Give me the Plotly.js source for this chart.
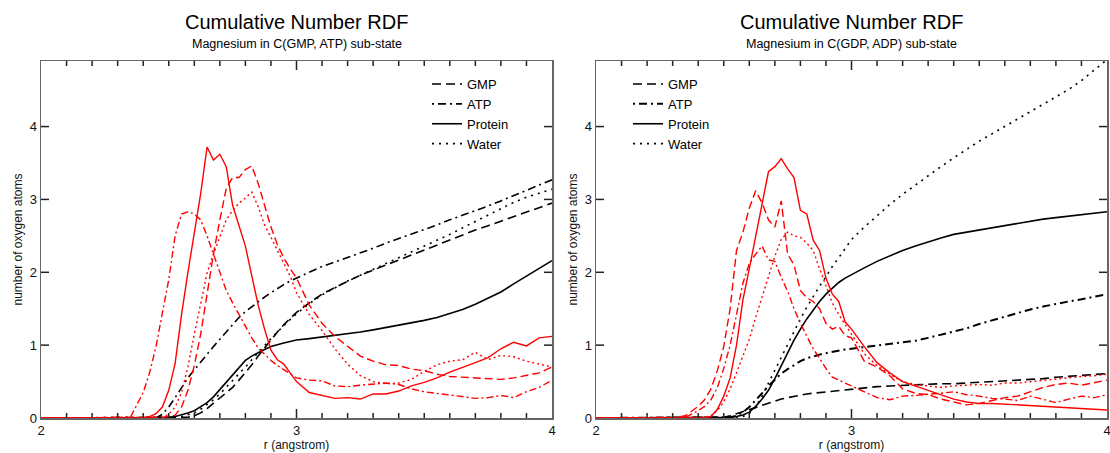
<!DOCTYPE html>
<html><head><meta charset="utf-8">
<script src="https://cdn.plot.ly/plotly-3.0.1.min.js"></script>
<style>html,body{margin:0;padding:0;background:#fff}#chart{width:1110px;height:453px}</style>
</head><body><div id="chart"></div>
<script>
// r grid (angstrom)
const r = [2.0, 2.30, 2.35, 2.40, 2.425, 2.45, 2.475, 2.50, 2.525, 2.55, 2.575, 2.60, 2.625, 2.65, 2.675, 2.70,
  2.725, 2.75, 2.775, 2.80, 2.825, 2.85, 2.875, 2.90, 2.925, 2.95, 2.975, 3.00, 3.05, 3.10, 3.15, 3.20,
  3.25, 3.30, 3.35, 3.40, 3.45, 3.50, 3.55, 3.60, 3.65, 3.70, 3.75, 3.80, 3.85, 3.90, 3.95, 4.00];

const seriesNames = ['GMP', 'ATP', 'Protein', 'Water'];
const xTicks = [2, 3, 4];
const xMinorStep = 0.1;
const yTicks = [0, 1, 2, 3, 4];
const titles = ['Cumulative Number RDF', 'Cumulative Number RDF'];
const subtitles = ['Magnesium in C(GMP, ATP) sub-state', 'Magnesium in C(GDP, ADP) sub-state'];

// LEFT panel: C(GMP, ATP)
const L_cum_gmp = [0,0,0,0,0,0,0,0,0,0,0.01,0.03,0.07,0.13,0.2,0.27,0.34,0.42,0.52,0.62,0.73,0.85,0.96,1.08,1.18,1.28,1.37,1.45,1.58,1.7,1.79,1.88,1.96,2.03,2.1,2.17,2.24,2.31,2.38,2.45,2.52,2.58,2.64,2.7,2.76,2.82,2.88,2.95];
const L_cum_atp = [0,0,0,0,0,0,0.05,0.15,0.28,0.42,0.55,0.66,0.77,0.88,0.98,1.08,1.18,1.28,1.38,1.46,1.53,1.6,1.66,1.72,1.78,1.83,1.88,1.92,2.0,2.08,2.14,2.2,2.27,2.33,2.4,2.46,2.52,2.59,2.65,2.72,2.78,2.84,2.91,2.98,3.05,3.12,3.19,3.27];
const L_cum_protein = [0,0,0,0,0,0,0,0.005,0.02,0.04,0.07,0.1,0.15,0.21,0.29,0.39,0.5,0.6,0.7,0.79,0.85,0.9,0.94,0.98,1.01,1.03,1.05,1.07,1.09,1.11,1.14,1.16,1.18,1.21,1.24,1.27,1.3,1.34,1.38,1.43,1.49,1.56,1.64,1.73,1.84,1.95,2.05,2.16];
const L_cum_water = [0,0,0,0,0,0,0,0,0.01,0.02,0.04,0.07,0.12,0.18,0.25,0.33,0.42,0.51,0.6,0.7,0.8,0.9,1.0,1.09,1.18,1.27,1.35,1.43,1.57,1.69,1.79,1.88,1.96,2.04,2.12,2.19,2.27,2.35,2.43,2.52,2.61,2.7,2.79,2.88,2.96,3.03,3.09,3.14];
const L_rdf_gmp = [0,0,0,0,0,0,0.01,0.02,0.04,0.15,0.38,0.72,1.15,1.7,2.25,2.72,3.15,3.3,3.3,3.41,3.46,3.22,2.92,2.62,2.38,2.2,2.05,1.92,1.55,1.3,1.12,0.98,0.85,0.78,0.73,0.72,0.67,0.65,0.6,0.57,0.56,0.54,0.53,0.53,0.55,0.58,0.62,0.7];
const L_rdf_atp = [0,0,0.01,0.35,0.62,0.98,1.45,1.9,2.5,2.8,2.83,2.8,2.72,2.5,2.25,2.0,1.75,1.58,1.42,1.24,1.1,0.96,0.87,0.79,0.72,0.66,0.6,0.55,0.52,0.51,0.44,0.43,0.45,0.47,0.48,0.46,0.4,0.36,0.34,0.32,0.3,0.27,0.28,0.31,0.28,0.36,0.42,0.52];
const L_rdf_protein = [0,0,0,0,0.02,0.06,0.15,0.38,0.75,1.42,2.0,2.55,3.08,3.72,3.54,3.62,3.45,2.92,2.65,2.36,1.95,1.55,1.22,0.93,0.8,0.74,0.62,0.5,0.35,0.31,0.27,0.28,0.26,0.33,0.33,0.37,0.44,0.49,0.55,0.63,0.69,0.76,0.83,0.95,1.04,0.99,1.1,1.12];
const L_rdf_water = [0,0,0,0,0,0,0.01,0.05,0.15,0.35,0.7,1.15,1.55,1.99,2.25,2.5,2.72,2.85,2.95,3.02,3.1,2.9,2.65,2.48,2.3,2.12,1.95,1.72,1.42,1.2,0.95,0.74,0.58,0.5,0.47,0.48,0.53,0.64,0.73,0.78,0.8,0.9,0.8,0.86,0.84,0.78,0.74,0.7];

// RIGHT panel: C(GDP, ADP)
const R_cum_gmp = [0,0,0,0,0,0,0,0.01,0.03,0.06,0.09,0.12,0.15,0.18,0.21,0.24,0.26,0.28,0.3,0.32,0.33,0.34,0.35,0.36,0.37,0.38,0.39,0.4,0.41,0.43,0.44,0.45,0.46,0.46,0.47,0.47,0.48,0.48,0.49,0.5,0.51,0.53,0.54,0.56,0.57,0.59,0.6,0.61];
const R_cum_atp = [0,0,0,0,0,0,0,0,0.01,0.03,0.08,0.15,0.24,0.34,0.44,0.53,0.61,0.67,0.73,0.78,0.82,0.85,0.87,0.89,0.91,0.93,0.94,0.95,0.97,0.99,1.01,1.03,1.06,1.1,1.14,1.18,1.23,1.29,1.34,1.4,1.45,1.49,1.53,1.57,1.6,1.63,1.66,1.7];
const R_cum_protein = [0,0,0,0,0,0,0,0,0.01,0.02,0.04,0.08,0.16,0.26,0.38,0.54,0.72,0.9,1.07,1.22,1.36,1.48,1.6,1.7,1.78,1.86,1.92,1.97,2.06,2.15,2.23,2.3,2.36,2.42,2.47,2.52,2.55,2.59,2.62,2.65,2.68,2.71,2.73,2.75,2.77,2.79,2.81,2.83];
const R_cum_water = [0,0,0,0,0,0,0,0,0,0,0.02,0.06,0.15,0.3,0.48,0.66,0.82,1.0,1.18,1.36,1.52,1.67,1.81,1.94,2.08,2.2,2.33,2.45,2.62,2.78,2.93,3.07,3.2,3.33,3.45,3.57,3.69,3.8,3.9,4.0,4.1,4.2,4.3,4.4,4.51,4.63,4.77,4.92];
const R_rdf_gmp = [0,0,0.03,0.16,0.25,0.4,0.65,0.98,1.5,2.3,2.55,2.88,3.12,2.95,2.72,2.62,2.98,2.25,2.1,1.75,1.65,1.6,1.5,1.3,1.22,1.26,1.13,1.1,0.78,0.7,0.58,0.4,0.34,0.32,0.26,0.22,0.18,0.2,0.24,0.28,0.3,0.36,0.42,0.46,0.48,0.45,0.48,0.52];
const R_rdf_atp = [0,0,0.01,0.1,0.16,0.25,0.42,0.68,1.0,1.42,1.85,2.12,2.25,2.36,2.17,2.15,1.93,1.74,1.5,1.3,1.12,0.95,0.82,0.68,0.56,0.52,0.48,0.45,0.37,0.28,0.25,0.3,0.31,0.32,0.34,0.36,0.32,0.3,0.27,0.26,0.24,0.3,0.26,0.21,0.26,0.3,0.28,0.32];
const R_rdf_protein = [0,0,0,0,0,0.02,0.12,0.3,0.55,1.0,1.62,2.05,2.5,2.92,3.38,3.45,3.56,3.42,3.3,2.85,2.8,2.44,2.3,1.92,1.7,1.6,1.32,1.22,0.98,0.76,0.62,0.5,0.44,0.38,0.31,0.26,0.22,0.2,0.2,0.19,0.18,0.17,0.15,0.15,0.14,0.13,0.12,0.11];
const R_rdf_water = [0,0,0,0,0.01,0.03,0.1,0.22,0.4,0.62,0.85,1.08,1.38,1.65,1.95,2.22,2.45,2.55,2.5,2.48,2.4,2.3,2.05,1.8,1.58,1.42,1.28,1.15,0.88,0.72,0.6,0.5,0.46,0.44,0.42,0.44,0.45,0.46,0.45,0.48,0.48,0.5,0.52,0.53,0.55,0.57,0.58,0.6];

const FONT = '"Liberation Sans", Arial, Helvetica, sans-serif';
const W = 1110, H = 453;
const dashes = {GMP: '9px,5px', ATP: '2px,4px,8px,4px', Protein: 'solid', Water: '2px,5px'};
const redDashes = {GMP: '8px,4px', ATP: '7px,3px,2px,3px', Protein: 'solid', Water: '2px,3px'};

const panels = [
  {xa: 'x', ya: 'y', legend: 'legend', cum: [L_cum_gmp, L_cum_atp, L_cum_protein, L_cum_water], rdf: [L_rdf_gmp, L_rdf_atp, L_rdf_protein, L_rdf_water]},
  {xa: 'x2', ya: 'y2', legend: 'legend2', cum: [R_cum_gmp, R_cum_atp, R_cum_protein, R_cum_water], rdf: [R_rdf_gmp, R_rdf_atp, R_rdf_protein, R_rdf_water]}
];

const traces = [];
panels.forEach((p, pi) => {
  seriesNames.forEach((nm, i) => {
    traces.push({x: r, y: p.cum[i], xaxis: p.xa, yaxis: p.ya, mode: 'lines', name: nm, legend: p.legend,
      line: {color: '#000', width: (pi === 1 && nm === 'ATP') ? 2 : 1.6, dash: dashes[nm]}, hoverinfo: 'skip'});
  });
  seriesNames.forEach((nm, i) => {
    traces.push({x: r, y: p.rdf[i], xaxis: p.xa, yaxis: p.ya, mode: 'lines', name: nm, showlegend: false,
      line: {color: '#ff0000', width: 1.4, dash: redDashes[nm]}, hoverinfo: 'skip'});
  });
});

const xDom = [[41 / W, 552 / W], [596 / W, 1107 / W]];
const yDom = [1 - 418 / H, 1 - 61 / H];
const xRange = [xTicks[0], xTicks[xTicks.length - 1]];

// tick positions every 0.1 (axis decoration)
const xTickVals = [];
const nSteps = Math.round((xRange[1] - xRange[0]) / xMinorStep);
for (let k = 1; k < nSteps; k++) xTickVals.push(+(xRange[0] + k * xMinorStep).toFixed(2));

function xAxis(dom, anchor) {
  return {domain: dom, anchor: anchor, range: xRange,
    tickmode: 'array', tickvals: xTicks, ticks: '', mirror: true,
    showline: true, linecolor: '#666', linewidth: 1.5, showgrid: false, zeroline: false, automargin: false,
    ticklabeloverflow: 'allow',
    tickfont: {family: FONT, size: 13, color: '#111'},
    title: {text: 'r (angstrom)', font: {family: FONT, size: 12, color: '#111'}, standoff: 0}};
}
function yAxis(anchor) {
  return {domain: yDom, anchor: anchor, range: [0, 4.9],
    tickmode: 'array', tickvals: yTicks, ticks: '', mirror: true,
    showline: true, linecolor: '#666', linewidth: 1.5, showgrid: false, zeroline: false, automargin: false,
    ticklabeloverflow: 'allow',
    tickfont: {family: FONT, size: 13, color: '#111'},
    title: {text: 'number of oxygen atoms', font: {family: FONT, size: 12, color: '#111'}, standoff: 4}};
}

// inward tick marks drawn as pixel-sized shapes anchored on the frame
const shapes = [];
const tickLine = {color: '#222', width: 1.5};
['x', 'x2'].forEach(xr => {
  xTickVals.forEach(v => {
    const len = xTicks.includes(v) ? 9 : 5;
    shapes.push({type: 'line', xref: xr, yref: 'paper', ysizemode: 'pixel', yanchor: yDom[0],
      x0: v, x1: v, y0: 0, y1: len, line: tickLine, layer: 'above'});
    shapes.push({type: 'line', xref: xr, yref: 'paper', ysizemode: 'pixel', yanchor: yDom[1],
      x0: v, x1: v, y0: 0, y1: -len, line: tickLine, layer: 'above'});
  });
});
['y', 'y2'].forEach((yr, i) => {
  yTicks.slice(1).forEach(v => {
    shapes.push({type: 'line', xref: 'paper', yref: yr, xsizemode: 'pixel', xanchor: xDom[i][0],
      x0: 0, x1: 8, y0: v, y1: v, line: tickLine, layer: 'above'});
    shapes.push({type: 'line', xref: 'paper', yref: yr, xsizemode: 'pixel', xanchor: xDom[i][1],
      x0: 0, x1: -8, y0: v, y1: v, line: tickLine, layer: 'above'});
  });
});

const annotations = [];
[0, 1].forEach(i => {
  const cx = (xDom[i][0] + xDom[i][1]) / 2;
  annotations.push({text: titles[i], x: cx, y: 1 - 22 / H, xref: 'paper', yref: 'paper', showarrow: false,
    xanchor: 'center', yanchor: 'middle', font: {family: FONT, size: 20, color: '#000'}});
  annotations.push({text: subtitles[i], x: cx, y: 1 - 44 / H, xref: 'paper', yref: 'paper', showarrow: false,
    xanchor: 'center', yanchor: 'middle', font: {family: FONT, size: 12.5, color: '#000'}});
});

const legendStyle = {xanchor: 'left', yanchor: 'top', bgcolor: 'rgba(0,0,0,0)', borderwidth: 0,
  font: {family: FONT, size: 13, color: '#000'}, tracegroupgap: 0, itemwidth: 30};

const layout = {
  width: W, height: H, margin: {l: 0, r: 0, t: 0, b: 0}, paper_bgcolor: '#fff', plot_bgcolor: '#fff',
  showlegend: true,
  xaxis: xAxis(xDom[0], 'y'), yaxis: yAxis('x'),
  xaxis2: xAxis(xDom[1], 'y2'), yaxis2: yAxis('x2'),
  legend: Object.assign({x: 427 / W, y: 1 - 69 / H}, legendStyle),
  legend2: Object.assign({x: 628 / W, y: 1 - 69 / H}, legendStyle),
  shapes: shapes,
  annotations: annotations
};

Plotly.newPlot('chart', traces, layout, {staticPlot: true, displayModeBar: false});
</script>
</body></html>
